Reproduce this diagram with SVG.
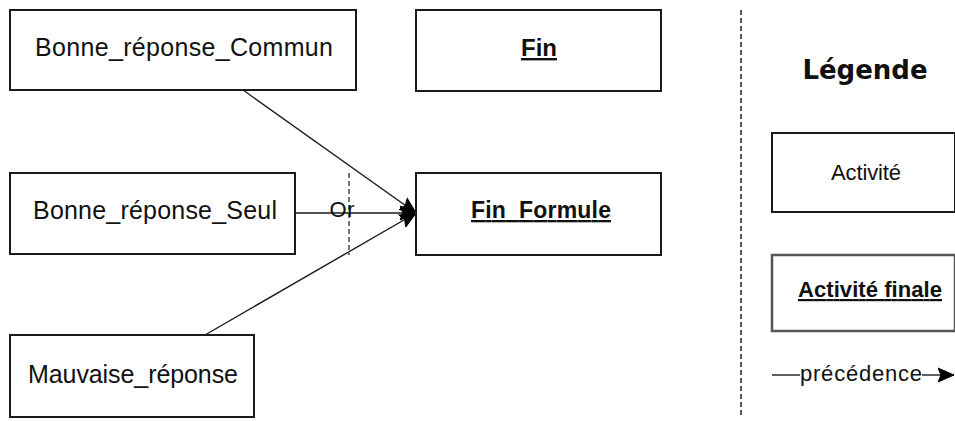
<svg xmlns="http://www.w3.org/2000/svg" width="955" height="421" viewBox="0 0 955 421">
<style>
.box{fill:#fff;stroke:#1a1a1a;stroke-width:2}
.t{font-family:"Liberation Sans",Arial,sans-serif;fill:#111;text-anchor:middle}
.b{font-weight:bold;text-decoration:underline}
.c{stroke:#1a1a1a;stroke-width:1.4;fill:none}
</style>
<defs>
<marker id="ah" markerUnits="userSpaceOnUse" markerWidth="18" markerHeight="18" refX="16" refY="8" orient="auto">
<path d="M0,1 L16,8 L0,15 L3,8 Z" fill="#000" stroke="#000" stroke-width="1"/>
</marker>
</defs>
<rect width="955" height="421" fill="#fff"/>
<g id="connectors">
<line class="c" x1="243" y1="90" x2="416" y2="213" marker-end="url(#ah)"/>
<line class="c" x1="296" y1="213" x2="416" y2="213" marker-end="url(#ah)"/>
<line class="c" x1="205" y1="335" x2="416" y2="213" marker-end="url(#ah)"/>
<line x1="349" y1="173" x2="349" y2="255" stroke="#1a1a1a" stroke-width="1.2" stroke-dasharray="5,3"/>
<text class="t" x="342" y="217" font-size="22" textLength="25">Or</text>
</g>
<g id="n-commun">
<rect class="box" x="10" y="10" width="346" height="80"/>
<text class="t" x="184" y="56" font-size="25" textLength="298">Bonne_réponse_Commun</text>
</g>
<g id="n-seul">
<rect class="box" x="10" y="173" width="285" height="81"/>
<text class="t" x="155" y="219" font-size="25" textLength="244">Bonne_réponse_Seul</text>
</g>
<g id="n-mauvaise">
<rect class="box" x="10" y="335" width="244" height="82"/>
<text class="t" x="133" y="383" font-size="25" textLength="210">Mauvaise_réponse</text>
</g>
<g id="n-fin">
<rect class="box" x="416" y="10" width="245" height="81"/>
<text class="t b" x="539" y="56" font-size="24">Fin</text>
</g>
<g id="n-finformule">
<rect class="box" x="416" y="173" width="245" height="82"/>
<text class="t b" x="541" y="218" font-size="23" textLength="140">Fin_Formule</text>
</g>
<g id="legend">
<line x1="741" y1="10" x2="741" y2="416" stroke="#222" stroke-width="1.5" stroke-dasharray="5,3"/>
<text x="865" y="79" font-family="'DejaVu Sans',Verdana,sans-serif" font-weight="bold" font-size="26" text-anchor="middle" fill="#111">Légende</text>
<g id="leg-activite">
<rect class="box" x="772" y="133" width="183" height="79"/>
<text class="t" x="866" y="180" font-size="22" textLength="70">Activité</text>
</g>
<g id="leg-finale">
<rect x="772" y="255" width="183" height="76" fill="#fff" stroke="#555" stroke-width="2.5"/>
<text class="t b" x="870" y="297" font-size="22" textLength="144">Activité finale</text>
</g>
<g id="leg-precedence">
<line class="c" x1="772" y1="375" x2="800" y2="375"/>
<text class="t" x="861" y="381" font-size="22" textLength="122">précédence</text>
<line class="c" x1="922" y1="375" x2="954" y2="375" marker-end="url(#ah)"/>
</g>
</g>
</svg>
